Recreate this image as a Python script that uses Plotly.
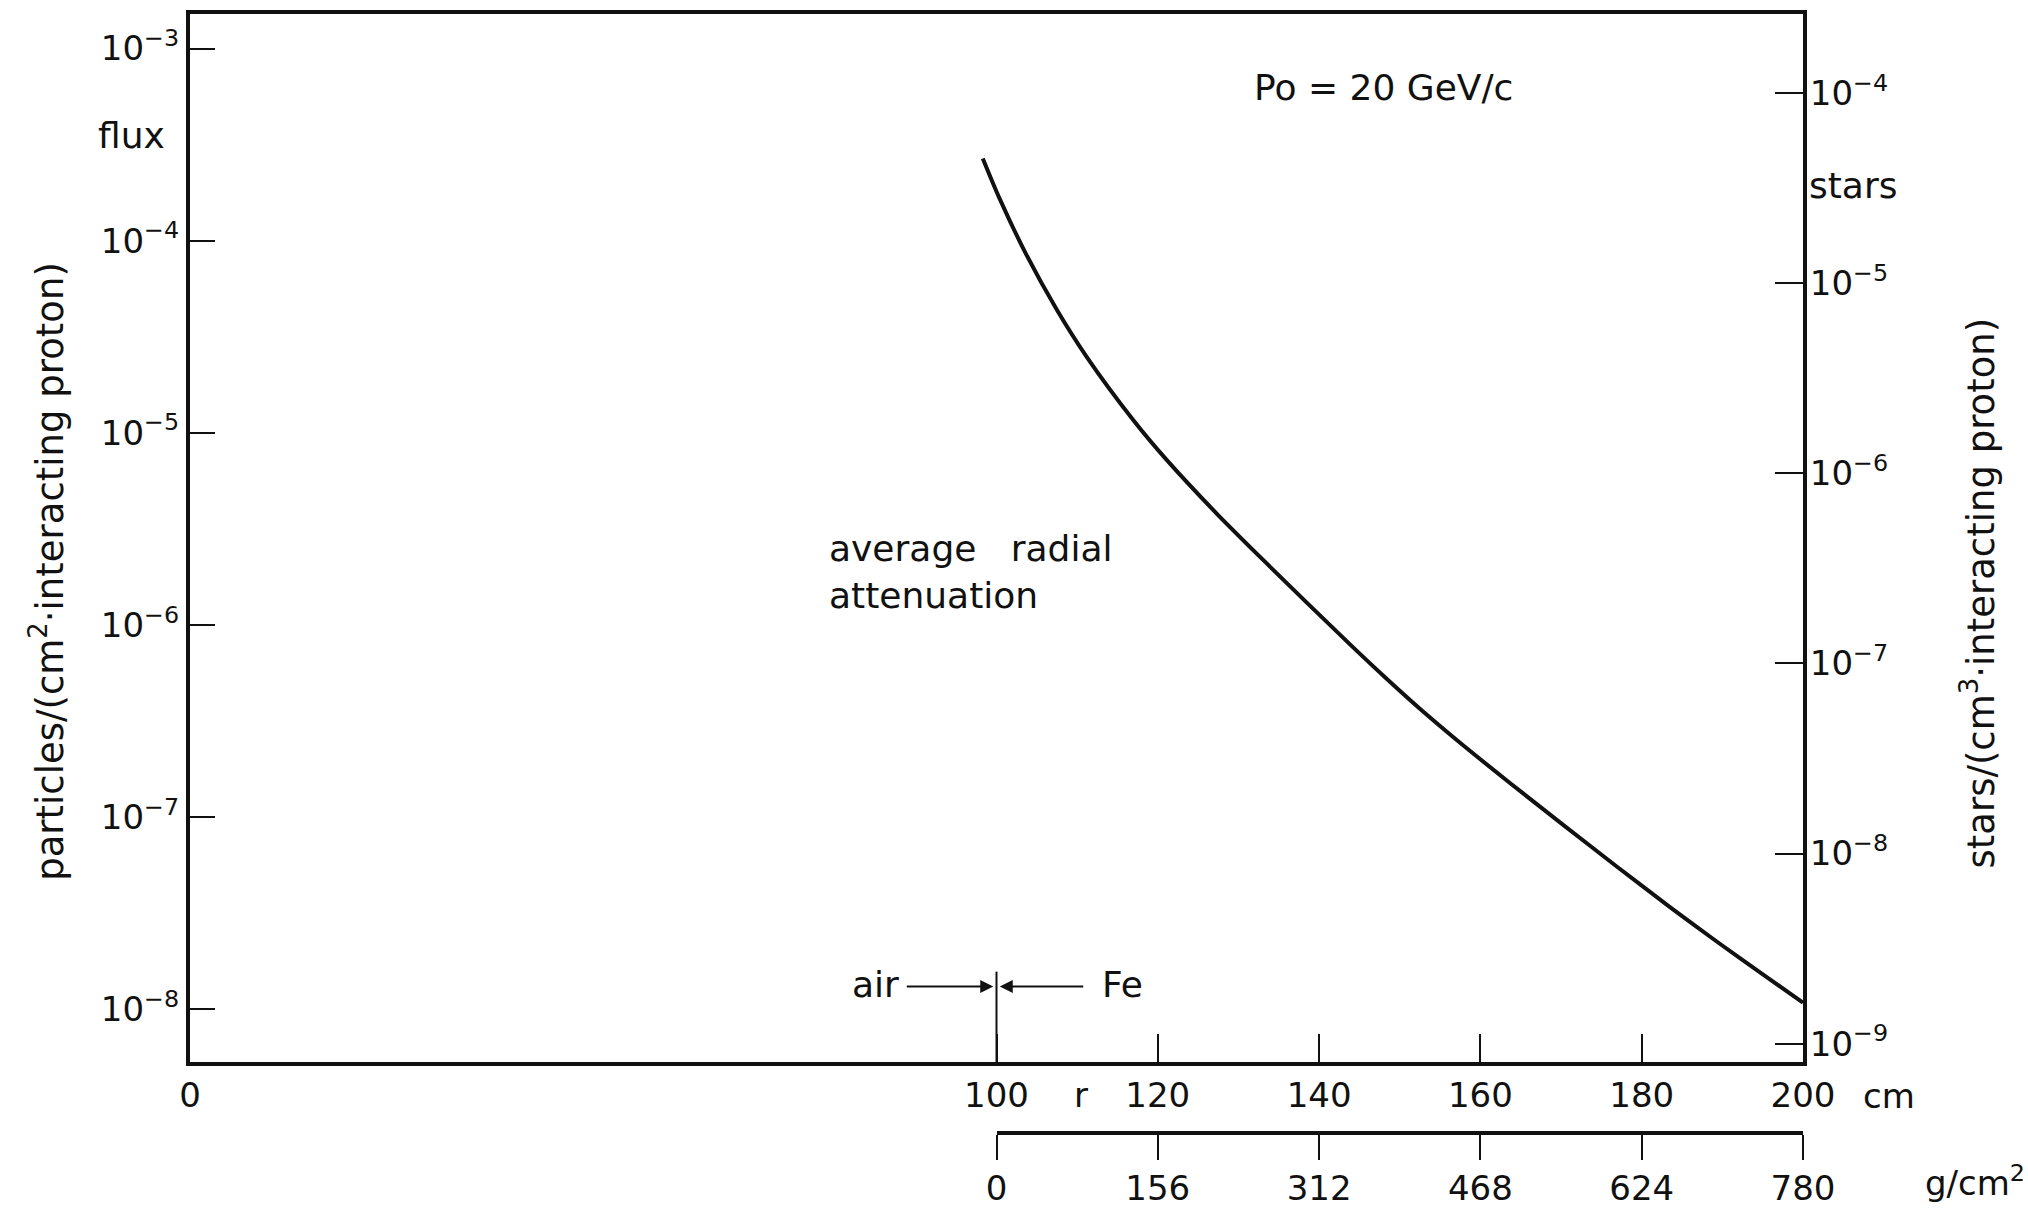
import plotly.graph_objects as go

# ---- data ----
r_cm = [98.3, 100.4, 103.7, 107.5, 111.2, 117.0, 121.1, 127.3, 133.5, 143.8,
        148.0, 152.5, 157.1, 163.7, 170.3, 176.9, 183.5, 189.3, 195.5, 200.0]
flux = [2.68e-4, 1.65e-4, 8.47e-5, 4.36e-5, 2.48e-5, 1.16e-5, 7.23e-6, 3.80e-6,
        2.09e-6, 7.94e-7, 5.42e-7, 3.66e-7, 2.51e-7, 1.50e-7, 9.08e-8, 5.53e-8,
        3.40e-8, 2.25e-8, 1.47e-8, 1.08e-8]

cm_ticks = [0, 100, 120, 140, 160, 180, 200]
gcm2_ticks = [0, 156, 312, 468, 624, 780]
flux_ticks = [1e-3, 1e-4, 1e-5, 1e-6, 1e-7, 1e-8]
flux_ticktext = ["10<sup>−3</sup>", "10<sup>−4</sup>", "10<sup>−5</sup>",
                 "10<sup>−6</sup>", "10<sup>−7</sup>", "10<sup>−8</sup>"]
stars_ticks = [1e-4, 1e-5, 1e-6, 1e-7, 1e-8, 1e-9]
stars_ticktext = ["10<sup>−4</sup>", "10<sup>−5</sup>", "10<sup>−6</sup>",
                  "10<sup>−7</sup>", "10<sup>−8</sup>", "10<sup>−9</sup>"]

FONT = "DejaVu Sans"
BLACK = "#111111"

# layout geometry (pixels)
W, H = 2028, 1218
M_L, M_R, M_T, M_B = 190, 225, 10, 30
paper_h = H - M_T - M_B
def py(p):  # pixel y -> paper y
    return (H - M_B - p) / paper_h
def px(p):  # pixel x -> paper x
    return (p - M_L) / (W - M_L - M_R)

y_dom_bottom = py(1072)

fig = go.Figure()
fig.add_trace(go.Scatter(x=r_cm, y=flux, mode="lines",
                         line=dict(color=BLACK, width=4, shape="spline", smoothing=0.8),
                         hoverinfo="skip"))
# helper traces so the secondary axes are drawn
fig.add_trace(go.Scatter(x=[None], y=[None], yaxis="y2", hoverinfo="skip"))
fig.add_trace(go.Scatter(x=[None], y=[None], xaxis="x2", hoverinfo="skip"))

axis_common = dict(showgrid=False, zeroline=False, showline=True, linecolor=BLACK,
                   linewidth=4, tickcolor=BLACK, tickwidth=2)

fig.update_layout(
    width=W, height=H,
    margin=dict(l=M_L, r=M_R, t=M_T, b=M_B),
    paper_bgcolor="white", plot_bgcolor="rgba(0,0,0,0)",
    showlegend=False,
    font=dict(family=FONT, color=BLACK),
    xaxis=dict(**axis_common, range=[0, 200], tickvals=cm_ticks,
               ticktext=[str(v) for v in cm_ticks], ticks="inside", ticklen=28,
               mirror=True, tickfont=dict(size=34, family=FONT, color=BLACK),
               anchor="y"),
    yaxis=dict(**axis_common, type="log", range=[-8.2775, -2.820],
               domain=[y_dom_bottom, 1], tickvals=flux_ticks, ticktext=flux_ticktext,
               ticks="inside", ticklen=25,
               tickfont=dict(size=34, family=FONT, color=BLACK)),
    yaxis2=dict(**axis_common, type="log", range=[-9.0987, -3.5846],
                overlaying="y", side="right", anchor="x",
                tickvals=stars_ticks, ticktext=stars_ticktext,
                ticks="inside", ticklen=28, ticklabelstandoff=-4,
                tickfont=dict(size=34, family=FONT, color=BLACK)),
    xaxis2=dict(**axis_common, range=[0, 780], domain=[0.5, 1],
                anchor="free", position=py(1143), side="bottom",
                tickvals=gcm2_ticks, ticktext=[str(v) for v in gcm2_ticks],
                ticks="outside", ticklen=25,
                tickfont=dict(size=34, family=FONT, color=BLACK)),
)

# tall marker line at r = 100 cm (air / Fe boundary)
fig.add_shape(type="line", xref="x", yref="paper", x0=100, x1=100,
              y0=y_dom_bottom, y1=py(980), line=dict(color=BLACK, width=2))

ann = []
def text(x, y, s, size=36, xref="paper", yref="paper", xanchor="center", **kw):
    ann.append(dict(x=x, y=y, text=s, xref=xref, yref=yref, showarrow=False,
                    xanchor=xanchor, yanchor="middle",
                    font=dict(size=size, family=FONT, color=BLACK), **kw))

text(px(48), py(575), "particles/(cm<sup>2</sup>·interacting proton)", size=37, textangle=-90)
text(px(1979), py(597), "stars/(cm<sup>3</sup>·interacting proton)", size=37, textangle=-90)
text(px(131), py(133), "flux", size=36)
text(px(1807), py(184), "stars", size=36, xanchor="left")
text(px(1383), py(84), "Po = 20 GeV/c", size=36)
text(px(827), py(575), "average\u00a0\u00a0 radial<br>attenuation", size=36, xanchor="left", align="left")
text(px(875), py(993), "air", size=36)
text(px(1122), py(993), "Fe", size=36)
text(px(1081), py(1105), "r", size=34)
text(px(1889), py(1106), "cm", size=34)
text(px(1975), py(1192), "g/cm<sup>2</sup>", size=34)

# arrows pointing to the boundary
ann.append(dict(x=99.6, y=py(995), xref="x", yref="paper", ax=-88, ay=0,
                axref="pixel", ayref="pixel", text="", showarrow=True,
                arrowhead=2, arrowsize=1.3, arrowwidth=2, arrowcolor=BLACK, standoff=0))
ann.append(dict(x=100.4, y=py(995), xref="x", yref="paper", ax=85, ay=0,
                axref="pixel", ayref="pixel", text="", showarrow=True,
                arrowhead=2, arrowsize=1.3, arrowwidth=2, arrowcolor=BLACK, standoff=0))

fig.update_layout(annotations=ann)
fig.write_html("out.html")
